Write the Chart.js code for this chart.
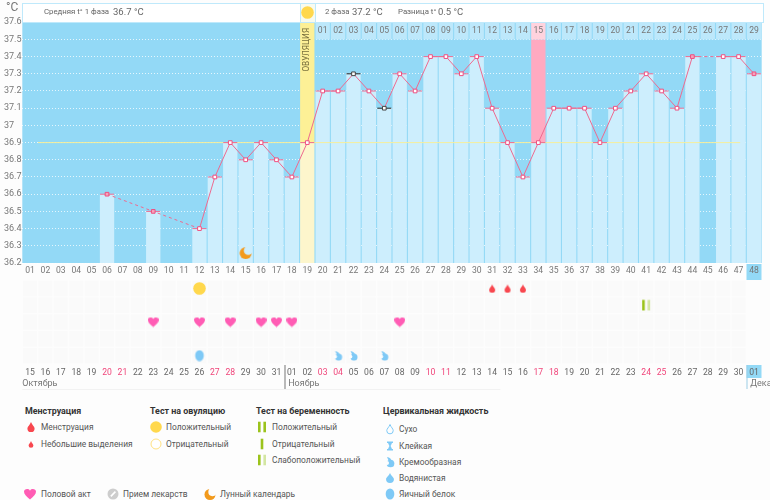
<!DOCTYPE html>
<html lang="ru">
<head>
<meta charset="utf-8">
<title>График температуры</title>
<script src="https://cdn.jsdelivr.net/npm/chart.js@4"></script>
<style>
html, body { margin: 0; padding: 0; width: 770px; height: 500px; overflow: hidden; background: #fdfdfd; font-family: Roboto, sans-serif; }
canvas { position: absolute; left: 0; }
#tempChart { top: 0; }
#rowsChart { top: 280px; }
.head { position: absolute; top: 3px; height: 18px; background: #fff; border: 1px solid #bfe9fb; box-sizing: content-box; }
.t { position: absolute; white-space: nowrap; color: #666; font-size: 7.8px; line-height: 12px; }
.v { font-size: 9.5px; color: #666; }
.lh { position: absolute; white-space: nowrap; font-size: 8.9px; font-weight: 700; color: #333; line-height: 12px; }
.li { position: absolute; white-space: nowrap; font-size: 8.4px; color: #555; line-height: 12px; }
.legend-icon { position: absolute; }
</style>
</head>
<body>
<canvas id="tempChart" width="770" height="280"></canvas>
<canvas id="rowsChart" width="770" height="115"></canvas>

<div class="head" style="left:22px;width:277px"></div>
<div class="head" style="left:300px;width:14px;background:#f8fbef"></div>
<div class="head" style="left:315px;width:447px"></div>
<div class="t" style="left:6px;top:0;font-size:12px;line-height:14px;color:#777">°C</div>
<div class="t" style="left:44px;top:6px">Средняя t° 1 фаза</div>
<div class="t v" style="left:113px;top:6px">36.7 °C</div>
<canvas class="legend-icon" data-icon="sun" width="13" height="13" style="left:301px;top:6px"></canvas>
<div class="t" style="left:325px;top:6px">2 фаза</div>
<div class="t v" style="left:352px;top:6px">37.2 °C</div>
<div class="t" style="left:398px;top:6px">Разница t°</div>
<div class="t v" style="left:438px;top:6px">0.5 °C</div>

<div class="lh" style="left:25px;top:405px">Менструация</div>
<canvas class="legend-icon" data-icon="blood" width="12" height="12" style="left:25px;top:421px"></canvas>
<div class="li" style="left:41px;top:421px">Менструация</div>
<canvas class="legend-icon" data-icon="bloodSmall" width="12" height="12" style="left:25px;top:438px"></canvas>
<div class="li" style="left:41px;top:438px">Небольшие выделения</div>

<div class="lh" style="left:150px;top:405px">Тест на овуляцию</div>
<canvas class="legend-icon" data-icon="sun" width="12" height="12" style="left:150px;top:421px"></canvas>
<div class="li" style="left:166px;top:421px">Положительный</div>
<canvas class="legend-icon" data-icon="sunEmpty" width="12" height="12" style="left:150px;top:438px"></canvas>
<div class="li" style="left:166px;top:438px">Отрицательный</div>

<div class="lh" style="left:256px;top:405px">Тест на беременность</div>
<canvas class="legend-icon" data-icon="testPositive" width="12" height="12" style="left:256px;top:421px"></canvas>
<div class="li" style="left:272px;top:421px">Положительный</div>
<canvas class="legend-icon" data-icon="testNegative" width="12" height="12" style="left:256px;top:438px"></canvas>
<div class="li" style="left:272px;top:438px">Отрицательный</div>
<canvas class="legend-icon" data-icon="testWeak" width="12" height="12" style="left:256px;top:454px"></canvas>
<div class="li" style="left:272px;top:454px">Слабоположительный</div>

<div class="lh" style="left:383px;top:405px">Цервикальная жидкость</div>
<canvas class="legend-icon" data-icon="dry" width="12" height="12" style="left:384px;top:423px"></canvas>
<div class="li" style="left:399px;top:423px">Сухо</div>
<canvas class="legend-icon" data-icon="sticky" width="12" height="12" style="left:384px;top:440px"></canvas>
<div class="li" style="left:399px;top:440px">Клейкая</div>
<canvas class="legend-icon" data-icon="cream" width="12" height="12" style="left:384px;top:456px"></canvas>
<div class="li" style="left:399px;top:456px">Кремообразная</div>
<canvas class="legend-icon" data-icon="water" width="12" height="12" style="left:384px;top:472px"></canvas>
<div class="li" style="left:399px;top:472px">Водянистая</div>
<canvas class="legend-icon" data-icon="egg" width="12" height="12" style="left:384px;top:488px"></canvas>
<div class="li" style="left:399px;top:488px">Яичный белок</div>

<canvas class="legend-icon" data-icon="heart" width="12" height="12" style="left:24px;top:488px"></canvas>
<div class="li" style="left:41px;top:488px">Половой акт</div>
<canvas class="legend-icon" data-icon="pill" width="12" height="12" style="left:107px;top:488px"></canvas>
<div class="li" style="left:123px;top:488px">Прием лекарств</div>
<canvas class="legend-icon" data-icon="moon" width="12" height="12" style="left:204px;top:488px"></canvas>
<div class="li" style="left:220px;top:488px">Лунный календарь</div>

<script>
// Дни цикла
const cycleDays = ['01','02','03','04','05','06','07','08','09','10','11','12','13','14','15','16','17','18','19','20','21','22','23','24','25','26','27','28','29','30','31','32','33','34','35','36','37','38','39','40','41','42','43','44','45','46','47','48'];
// Базальная температура по дням цикла
const temperatures = [null,null,null,null,null,36.6,null,null,36.5,null,null,36.4,36.7,36.9,36.8,36.9,36.8,36.7,36.9,37.2,37.2,37.3,37.2,37.1,37.3,37.2,37.4,37.4,37.3,37.4,37.1,36.9,36.7,36.9,37.1,37.1,37.1,36.9,37.1,37.2,37.3,37.2,37.1,37.4,null,37.4,37.4,37.3];
// Деления оси температуры
const tempTicks = ['36.2','36.3','36.4','36.5','36.6','36.7','36.8','36.9','37','37.1','37.2','37.3','37.4','37.5','37.6'];
// Дни второй фазы (начиная с дня цикла 20)
const phaseTwoDays = ['01','02','03','04','05','06','07','08','09','10','11','12','13','14','15','16','17','18','19','20','21','22','23','24','25','26','27','28','29'];
const ovulationDay = 19;
const phaseTwoPinkDay = 34;
const coverLine = 36.9;
const coverLineFrom = 1.52;
const coverLineTo = 47.1;
const blackCapDays = [22, 24];
const filledDays = [6, 9, 44, 48];
const moonDays = [15];
const moonLevel = 36.26;

// Календарные даты
const dates = ['15','16','17','18','19','20','21','22','23','24','25','26','27','28','29','30','31','01','02','03','04','05','06','07','08','09','10','11','12','13','14','15','16','17','18','19','20','21','22','23','24','25','26','27','28','29','30','01'];
const weekendIndexes = [5,6,12,13,19,20,26,27,33,34,40,41];
const monthNames = ['Октябрь','Ноябрь','Декабрь'];
const monthStartIndexes = [0,17,47];

// Отметки по дням цикла
const ovulationTestDays = [12];
const bleedingDays = [31,32,33];
const pregnancyTestDays = [41];
const intercourseDays = [9,12,14,16,17,18,25];
const eggWhiteDays = [12];
const creamDays = [21,22,24];

const BG_BLUE = '#93d9f6';
const BAR_BLUE = '#cdeefd';
const PINK = '#ee6a90';
const FONT = 'Roboto, sans-serif';

function teardrop(c, cx, top, r, h) {
    c.beginPath();
    c.moveTo(cx, top);
    c.bezierCurveTo(cx + r * 0.3, top + h * 0.3, cx + r, top + h * 0.45, cx + r, top + h - r);
    c.arc(cx, top + h - r, r, 0, Math.PI);
    c.bezierCurveTo(cx - r, top + h * 0.45, cx - r * 0.3, top + h * 0.3, cx, top);
    c.closePath();
}

function testBar(c, x, s, color) {
    c.fillStyle = color;
    c.fillRect(x, s * 0.06, 2.6, s * 0.88);
}

// Рисует значок заданного типа на контексте
function paintIcon(c, kind, s) {
    const m = s / 2;
    const blue = '#7ec9f6';
    c.save();
    if (kind === 'sun') {
        c.fillStyle = '#ffd84d';
        c.beginPath(); c.arc(m, m, m - 0.2, 0, Math.PI * 2); c.fill();
    } else if (kind === 'sunEmpty') {
        c.strokeStyle = '#ffe080'; c.fillStyle = '#fff'; c.lineWidth = 1;
        c.beginPath(); c.arc(m, m, m - 1, 0, Math.PI * 2); c.fill(); c.stroke();
    } else if (kind === 'blood') {
        c.fillStyle = '#f8474f';
        teardrop(c, m, 1, s * 0.3, s * 0.84); c.fill();
    } else if (kind === 'bloodSmall') {
        c.fillStyle = '#f8474f';
        teardrop(c, m, s * 0.24, s * 0.2, s * 0.58); c.fill();
    } else if (kind === 'heart') {
        c.fillStyle = '#ff5cb4';
        c.beginPath();
        c.moveTo(m, s * 0.96);
        c.bezierCurveTo(s * 0.18, s * 0.72, 0, s * 0.52, 0, s * 0.3);
        c.bezierCurveTo(0, s * 0.08, s * 0.36, s * 0, m, s * 0.22);
        c.bezierCurveTo(s * 0.64, s * 0, s, s * 0.08, s, s * 0.3);
        c.bezierCurveTo(s, s * 0.52, s * 0.82, s * 0.72, m, s * 0.96);
        c.fill();
    } else if (kind === 'testPositive') {
        testBar(c, m - 4, s, '#9bc31c'); testBar(c, m + 1.4, s, '#9bc31c');
    } else if (kind === 'testNegative') {
        testBar(c, m - 1.3, s, '#9bc31c');
    } else if (kind === 'testWeak') {
        testBar(c, m - 4, s, '#9bc31c'); testBar(c, m + 1.4, s, '#d3e6a2');
    } else if (kind === 'dry') {
        c.strokeStyle = blue; c.lineWidth = 1;
        teardrop(c, m, 1.5, s * 0.27, s * 0.78); c.stroke();
    } else if (kind === 'sticky') {
        c.fillStyle = blue;
        c.fillRect(m - 3, 1.5, 6, 1.5);
        c.fillRect(m - 3, s - 3, 6, 1.5);
        c.beginPath(); c.moveTo(m - 2, 3); c.lineTo(m + 2, 3); c.lineTo(m + 0.6, m); c.lineTo(m + 2, s - 3); c.lineTo(m - 2, s - 3); c.lineTo(m - 0.6, m); c.fill();
    } else if (kind === 'cream') {
        c.fillStyle = blue;
        c.beginPath(); c.arc(m + 0.5, m + 1.5, s * 0.32, 0, Math.PI * 2); c.fill();
        c.beginPath(); c.moveTo(m - 3, 1); c.quadraticCurveTo(m + 1, 1.5, m + 1.5, m - 1); c.lineTo(m - 1, m - 0.5); c.closePath(); c.fill();
        c.fillStyle = '#fdfdfd';
        c.beginPath(); c.arc(m - 3, m + 1, s * 0.17, 0, Math.PI * 2); c.fill();
    } else if (kind === 'water') {
        c.fillStyle = blue;
        teardrop(c, m, 1, s * 0.33, s * 0.84); c.fill();
    } else if (kind === 'egg') {
        c.fillStyle = blue;
        c.beginPath(); c.ellipse(m, m, s * 0.36, s * 0.46, 0, 0, Math.PI * 2); c.fill();
    } else if (kind === 'pill') {
        c.fillStyle = '#cdcdcd';
        c.beginPath(); c.arc(m, m, m - 0.5, 0, Math.PI * 2); c.fill();
        c.strokeStyle = '#fff'; c.lineWidth = 1.6;
        c.beginPath(); c.moveTo(s * 0.32, s * 0.7); c.lineTo(s * 0.7, s * 0.3); c.stroke();
    } else if (kind === 'moon') {
        c.fillStyle = '#f29a1c';
        c.beginPath(); c.arc(m, m + 0.5, m - 0.5, 0, Math.PI * 2); c.fill();
        c.globalCompositeOperation = 'destination-out';
        c.beginPath(); c.arc(m + s * 0.2, m - s * 0.16, m * 0.68, 0, Math.PI * 2); c.fill();
    }
    c.restore();
}

function makeIcon(kind, s) {
    const canvas = document.createElement('canvas');
    canvas.width = s;
    canvas.height = s;
    paintIcon(canvas.getContext('2d'), kind, s);
    return canvas;
}

document.querySelectorAll('canvas[data-icon]').forEach(el => {
    paintIcon(el.getContext('2d'), el.dataset.icon, el.width);
});

// Фон, подпись овуляции и подсветка последнего дня
const tempBackground = {
    id: 'tempBackground',
    beforeDraw(chart) {
        const { ctx, chartArea: a, scales: { x } } = chart;
        ctx.save();
        ctx.fillStyle = BG_BLUE;
        ctx.fillRect(a.left, a.top, a.right - a.left, a.bottom - a.top);
        const last = x.getPixelForValue(cycleDays.length - 1);
        ctx.fillRect(last - 7.5, a.bottom + 1, 15, 16);
        ctx.restore();
    },
    beforeDatasetDraw(chart, args) {
        if (chart.data.datasets[args.index].id !== 'caps') return;
        const { ctx, scales: { x, y } } = chart;
        ctx.save();
        ctx.strokeStyle = '#f5ee9c';
        ctx.lineWidth = 1;
        ctx.beginPath();
        ctx.moveTo(x.getPixelForValue(coverLineFrom - 1), y.getPixelForValue(coverLine));
        ctx.lineTo(x.getPixelForValue(coverLineTo - 1), y.getPixelForValue(coverLine));
        ctx.stroke();
        ctx.restore();
    },
    afterDraw(chart) {
        const { ctx, scales: { x, y } } = chart;
        ctx.save();
        ctx.fillStyle = '#777';
        ctx.font = '8.6px ' + FONT;
        ctx.textAlign = 'center';
        ctx.textBaseline = 'middle';
        const labelY = y.getPixelForValue(37.55);
        phaseTwoDays.forEach((label, i) => {
            ctx.fillText(label, x.getPixelForValue(ovulationDay + i), labelY);
        });
        ctx.translate(x.getPixelForValue(ovulationDay - 1), y.getPixelForValue(37.44));
        ctx.rotate(-Math.PI / 2);
        ctx.fillStyle = '#776f3d';
        ctx.font = '8.2px ' + FONT;
        ctx.fillText('ОВУЛЯЦИЯ', 0, 0);
        ctx.restore();
    }
};

new Chart(document.getElementById('tempChart'), {
    type: 'bar',
    plugins: [tempBackground],
    data: {
        labels: cycleDays,
        datasets: [
            {
                label: 'Шапка фазы',
                order: 6,
                data: cycleDays.map((d, i) => i + 1 > ovulationDay ? [37.5, 37.6] : null),
                backgroundColor: ctx => ctx.dataIndex + 1 === phaseTwoPinkDay ? '#ffd3de' : '#bde8fb'
            },
            {
                label: 'Овуляция и середина цикла',
                order: 6,
                data: cycleDays.map((d, i) => i + 1 === ovulationDay ? [coverLine, 37.6] : i + 1 === phaseTwoPinkDay ? [coverLine, 37.5] : null),
                backgroundColor: ctx => ctx.dataIndex + 1 === ovulationDay ? '#fdf096' : '#ffaac1'
            },
            {
                label: 'Столбики температуры',
                order: 5,
                data: temperatures.map(t => t === null ? null : [36.2, t]),
                backgroundColor: ctx => ctx.dataIndex + 1 === ovulationDay ? '#fdf6cc' : BAR_BLUE
            },
            {
                id: 'caps',
                type: 'line',
                label: 'Черточки',
                order: 2,
                data: temperatures,
                showLine: false,
                pointStyle: 'line',
                pointRadius: 7,
                pointBorderWidth: 1,
                pointBorderColor: ctx => blackCapDays.includes(ctx.dataIndex + 1) ? '#222' : PINK
            },
            {
                type: 'line',
                label: 'Температура',
                order: 1,
                data: temperatures,
                spanGaps: true,
                tension: 0,
                borderColor: PINK,
                borderWidth: 1,
                segment: {
                    borderDash: ctx => ctx.p0.skip || ctx.p1.skip ? [3, 3] : undefined
                },
                pointStyle: 'rect',
                pointRadius: 2.6,
                pointBorderWidth: 1,
                pointBorderColor: ctx => blackCapDays.includes(ctx.dataIndex + 1) ? '#444' : '#ee4f80',
                pointBackgroundColor: ctx => filledDays.includes(ctx.dataIndex + 1) ? '#f5a3bb' : '#fff'
            },
            {
                type: 'line',
                label: 'Лунный календарь',
                order: 1,
                data: cycleDays.map((d, i) => moonDays.includes(i + 1) ? moonLevel : null),
                showLine: false,
                pointStyle: makeIcon('moon', 13)
            }
        ]
    },
    options: {
        responsive: false,
        animation: false,
        events: [],
        layout: { padding: { top: 22.2, left: 4, right: 8.3, bottom: 0 } },
        datasets: { bar: { grouped: false, categoryPercentage: 1, barPercentage: 0.93 } },
        plugins: { legend: { display: false }, tooltip: { enabled: false } },
        scales: {
            x: {
                offset: true,
                grid: { display: false, drawTicks: false },
                border: { display: false },
                afterFit(scale) { scale.height = 17; },
                ticks: { color: '#777', font: { family: FONT, size: 8.6 }, autoSkip: false, maxRotation: 0, padding: 3 }
            },
            y: {
                min: 36.2,
                max: 37.6,
                afterFit(scale) { scale.width = 18.3; },
                border: { display: false, dash: [1, 2] },
                grid: {
                    drawTicks: false,
                    color: ctx => ctx.index === tempTicks.length - 1 ? 'transparent' : 'rgba(255,255,255,0.75)',
                    lineWidth: 1
                },
                afterBuildTicks(scale) {
                    scale.ticks = tempTicks.map(v => ({ value: Number(v) }));
                },
                ticks: {
                    color: '#777',
                    font: { family: FONT, size: 9 },
                    crossAlign: 'far',
                    padding: 0,
                    autoSkip: false,
                    callback: (value, i) => tempTicks[i]
                }
            }
        }
    }
});

// Строка отметок: значок только в нужные дни
function markRow(days, row) {
    return cycleDays.map((d, i) => days.includes(i + 1) ? row : null);
}

function iconDataset(label, days, row, kind, size) {
    return {
        label,
        data: markRow(days, row),
        showLine: false,
        pointStyle: makeIcon(kind, size)
    };
}

// Фоновая фактура строк, подсветка 01 и подписи месяцев
const rowsBackground = {
    id: 'rowsBackground',
    beforeDraw(chart) {
        const { ctx, chartArea: a, scales: { x, y } } = chart;
        ctx.save();
        ctx.fillStyle = '#fafafa';
        cycleDays.forEach((d, i) => {
            if (i === cycleDays.length - 1) return;
            for (let row = 0; row < 5; row++) {
                ctx.fillRect(x.getPixelForValue(i) - 7, y.getPixelForValue(row + 0.04), 14, 15.5);
            }
        });
        ctx.fillStyle = BG_BLUE;
        ctx.fillRect(x.getPixelForValue(cycleDays.length - 1) - 7.5, a.bottom + 1, 15, 13);
        ctx.restore();
    },
    afterDraw(chart) {
        const { ctx, chartArea: a, scales: { x } } = chart;
        ctx.save();
        ctx.font = '9px ' + FONT;
        ctx.textBaseline = 'middle';
        ctx.textAlign = 'left';
        monthNames.forEach((name, m) => {
            const left = x.getPixelForValue(monthStartIndexes[m]) - 7.7;
            if (m > 0) {
                ctx.fillStyle = m === 1 ? '#777' : '#9ccde6';
                ctx.fillRect(Math.round(left) + 0.5, a.bottom + 1, 1, 24);
            }
            ctx.fillStyle = '#777';
            ctx.fillText(name, m === 0 ? left : left + 4, a.bottom + 20);
        });
        ctx.fillStyle = '#f2f2f2';
        ctx.fillRect(a.left, a.bottom + 25, 478, 1);
        ctx.restore();
    }
};

new Chart(document.getElementById('rowsChart'), {
    type: 'line',
    plugins: [rowsBackground],
    data: {
        labels: dates,
        datasets: [
            iconDataset('Тест на овуляцию', ovulationTestDays, 0.5, 'sun', 13),
            iconDataset('Небольшие выделения', bleedingDays, 0.5, 'blood', 10),
            iconDataset('Тест на беременность', pregnancyTestDays, 1.5, 'testWeak', 12),
            iconDataset('Половой акт', intercourseDays, 2.5, 'heart', 11),
            iconDataset('Яичный белок', eggWhiteDays, 4.5, 'egg', 12),
            iconDataset('Кремообразная', creamDays, 4.5, 'cream', 11)
        ]
    },
    options: {
        responsive: false,
        animation: false,
        events: [],
        layout: { autoPadding: false, padding: { top: 0, left: 22.3, right: 8.3, bottom: 0 } },
        plugins: { legend: { display: false }, tooltip: { enabled: false } },
        scales: {
            x: {
                offset: true,
                grid: { display: false, drawTicks: false },
                border: { display: false },
                afterFit(scale) { scale.height = 31; },
                ticks: {
                    color: ctx => weekendIndexes.includes(ctx.index) ? '#f0457a' : '#666',
                    font: { family: FONT, size: 8.6 },
                    autoSkip: false,
                    maxRotation: 0,
                    padding: 4
                }
            },
            y: { display: false, reverse: true, min: 0, max: 5 }
        }
    }
});
</script>
</body>
</html>
